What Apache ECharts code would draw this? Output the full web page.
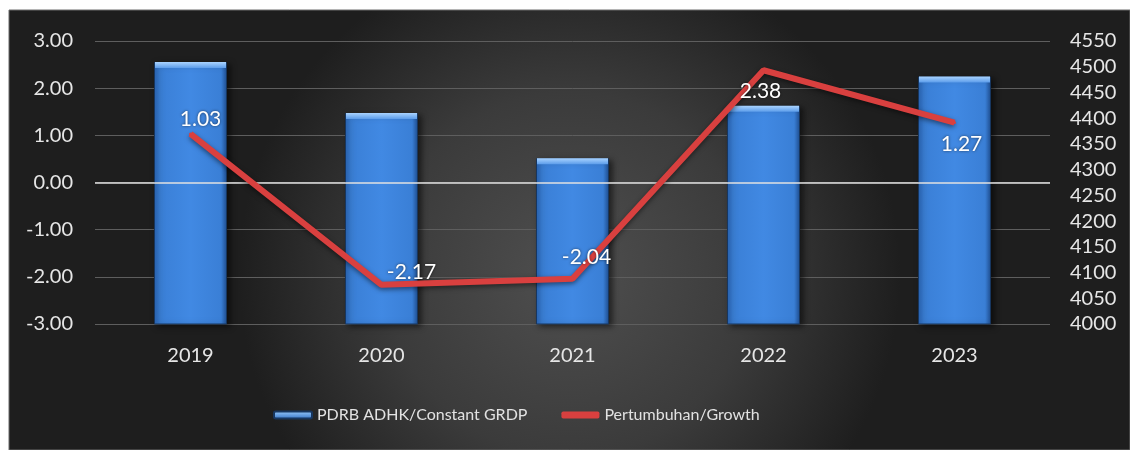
<!DOCTYPE html>
<html>
<head>
<meta charset="utf-8">
<script src="https://cdn.jsdelivr.net/npm/echarts@6/dist/echarts.min.js"></script>
<style>
  html, body { margin: 0; padding: 0; background: #ffffff; }
  #chart { width: 1130px; height: 450px; }
</style>
</head>
<body>
<div id="chart"></div>
<script>
// Years on the category axis
const years = ['2019', '2020', '2021', '2022', '2023'];
// Constant-price GRDP (right axis)
const grdpValues = [4509, 4410, 4322, 4424, 4481];
// Growth rate in percent (left axis)
const growthValues = [1.03, -2.17, -2.04, 2.38, 1.27];
// Axis ranges
const growthTicks = { min: -3, max: 3, step: 1 };
const grdpTicks = { min: 4000, max: 4550, step: 50 };

// Where each growth label sits around its point
const growthLabelPlacement = [
  { position: 'top', offset: [10, 2] },
  { position: 'top', offset: [30, 4] },
  { position: 'top', offset: [14, -4] },
  { position: 'bottom', offset: [-3, 4] },
  { position: 'bottom', offset: [7, 5] }
];

const FONT = 'Lato, "Open Sans", sans-serif';
const BAR_W = 73;
const RED = '#d9403f';

const chart = echarts.init(document.getElementById('chart'), null, { renderer: 'canvas' });

const growthData = growthValues.map((v, i) => ({
  value: v,
  label: growthLabelPlacement[i]
}));

chart.setOption({
  backgroundColor: '#ffffff',
  animation: false,
  graphic: [
    {
      type: 'rect',
      z: -10,
      shape: { x: 9, y: 10, width: 1121, height: 440 },
      style: {
        fill: {
          type: 'radial', x: 0.5, y: 0.6, r: 0.75,
          colorStops: [
            { offset: 0, color: '#4f4f4f' },
            { offset: 0.55, color: '#3b3b3b' },
            { offset: 1, color: '#1e1e1e' }
          ]
        },
        stroke: '#6a6a6a',
        lineWidth: 1
      }
    }
  ],
  grid: { left: 95, right: 80, top: 41, bottom: 126 },
  legend: {
    left: 268,
    top: 402,
    itemWidth: 38,
    itemHeight: 7,
    itemGap: 34,
    textStyle: { color: '#e2e2e2', fontSize: 16, fontFamily: FONT },
    data: [
      {
        name: 'PDRB ADHK/Constant GRDP',
        icon: 'roundRect',
        itemStyle: {
          color: {
            type: 'linear', x: 0, y: 0, x2: 0, y2: 1,
            colorStops: [
              { offset: 0, color: '#9fd0ff' },
              { offset: 1, color: '#2f6fc4' }
            ]
          }
        }
      },
      { name: 'Pertumbuhan/Growth', icon: 'roundRect', itemStyle: { color: RED } }
    ]
  },
  xAxis: {
    type: 'category',
    data: years,
    axisLine: { show: false },
    axisTick: { show: false },
    axisLabel: { color: '#e6e6e6', fontSize: 20, fontFamily: FONT, margin: 22 }
  },
  yAxis: [
    {
      type: 'value',
      min: growthTicks.min, max: growthTicks.max, interval: growthTicks.step,
      axisLine: { show: false },
      axisTick: { show: false },
      axisLabel: {
        color: '#e6e6e6', fontSize: 20, fontFamily: FONT, margin: 22,
        formatter: v => v.toFixed(2)
      },
      splitLine: { lineStyle: { color: '#5e5e5e', width: 1 } }
    },
    {
      type: 'value',
      min: grdpTicks.min, max: grdpTicks.max, interval: grdpTicks.step,
      position: 'right',
      axisLine: { show: false },
      axisTick: { show: false },
      axisLabel: {
        color: '#e6e6e6', fontSize: 20, fontFamily: FONT, margin: 20,
        formatter: v => String(v)
      },
      splitLine: { show: false }
    }
  ],
  series: [
    {
      name: 'PDRB ADHK/Constant GRDP',
      type: 'bar',
      yAxisIndex: 1,
      barWidth: BAR_W,
      barGap: '-100%',
      data: grdpValues,
      z: 3,
      itemStyle: {
        color: {
          type: 'linear', x: 0, y: 0, x2: 1, y2: 0,
          colorStops: [
            { offset: 0, color: '#2a65b6' },
            { offset: 0.08, color: '#3a7fd6' },
            { offset: 0.5, color: '#4189e3' },
            { offset: 0.92, color: '#3a7fd6' },
            { offset: 1, color: '#1f4f93' }
          ]
        },
        borderColor: '#17365f',
        borderWidth: 1,
        shadowColor: 'rgba(0,0,0,0.55)',
        shadowBlur: 6,
        shadowOffsetX: 3,
        shadowOffsetY: 2
      }
    },
    {
      name: 'bar-top',
      type: 'pictorialBar',
      yAxisIndex: 1,
      symbol: 'rect',
      symbolSize: [BAR_W - 2, 6],
      symbolPosition: 'end',
      barGap: '-100%',
      data: grdpValues,
      z: 4,
      silent: true,
      itemStyle: {
        color: {
          type: 'linear', x: 0, y: 0, x2: 0, y2: 1,
          colorStops: [
            { offset: 0, color: '#a9d3ff' },
            { offset: 1, color: '#5b9cea' }
          ]
        }
      }
    },
    {
      name: 'Pertumbuhan/Growth',
      type: 'line',
      yAxisIndex: 0,
      data: growthData,
      z: 6,
      showSymbol: true,
      symbol: 'circle',
      symbolSize: 3,
      lineStyle: {
        color: RED,
        width: 6,
        shadowColor: 'rgba(0,0,0,0.5)',
        shadowBlur: 5,
        shadowOffsetY: 2
      },
      itemStyle: { color: RED },
      label: {
        show: true,
        color: '#ffffff',
        fontSize: 21,
        fontFamily: FONT,
        textShadowColor: 'rgba(0,0,0,0.6)',
        textShadowBlur: 3,
        formatter: p => Number(p.value).toFixed(2)
      },
      markLine: {
        silent: true,
        symbol: 'none',
        label: { show: false },
        z: 5,
        lineStyle: { color: 'rgba(225,225,225,0.75)', width: 2, type: 'solid' },
        data: [{ yAxis: 0 }]
      }
    }
  ]
});
</script>
</body>
</html>
